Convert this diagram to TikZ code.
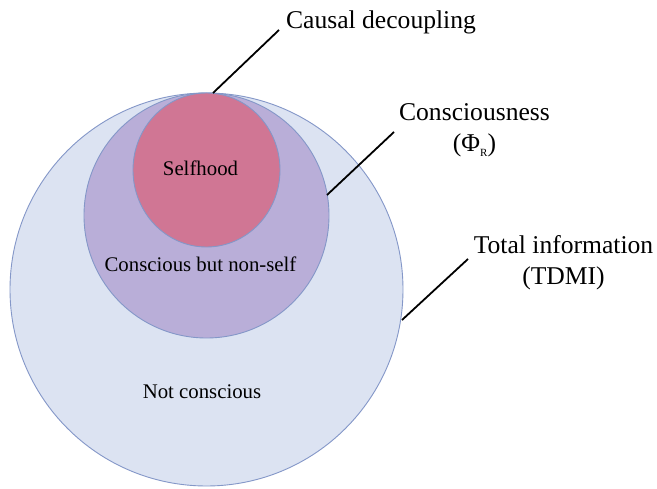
\documentclass[tikz,border=0pt]{standalone}
\usepackage{fontspec}
\setmainfont{Liberation Serif}
\usetikzlibrary{shapes.geometric}
\definecolor{outerfill}{HTML}{DCE3F2}
\definecolor{midfill}{HTML}{B9AED8}
\definecolor{innerfill}{HTML}{D07694}
\definecolor{ringline}{HTML}{8497C8}
\tikzset{
  ring/.style={draw=ringline, line width=0.9pt, inner sep=0pt},
  biglabel/.style={font=\fontsize{25.6}{31}\selectfont, align=center, inner sep=0pt},
  inlabel/.style={font=\fontsize{20.8}{25}\selectfont, inner sep=0pt},
  pointer/.style={draw=black, line width=1.8pt}
}
\begin{document}
\begin{tikzpicture}[x=1pt,y=-1pt]
\useasboundingbox (0,0) rectangle (657,489);
\fill[white] (0,0) rectangle (657,489);
\node[ring, circle, fill=outerfill, minimum size=393pt] (outer) at (206.5,289.5) {};
\node[ring, circle, fill=midfill, minimum size=245pt] (mid) at (206.5,215.5) {};
\node[ring, ellipse, fill=innerfill, minimum width=147pt, minimum height=154pt] (inner) at (206.5,170) {};
\node[inlabel] (self) at (200.5,168) {Selfhood};
\node[inlabel] (cbns) at (200.5,264) {Conscious but non-self};
\node[inlabel] (notc) at (202,392) {Not conscious};
\node[biglabel] (causal) at (381,22) {Causal decoupling};
\node[biglabel] (consc) at (474.5,130) {Consciousness\\(Φ\raisebox{-0.45ex}{\fontsize{11}{11}\selectfont R})};
\node[biglabel] (total) at (563.5,262.5) {Total information\\(TDMI)};
\coordinate (a1) at (279,30);
\coordinate (a2) at (213,93);
\coordinate (b1) at (394,132);
\coordinate (b2) at (327,195);
\coordinate (c1) at (468,259);
\coordinate (c2) at (402,320);
\draw[pointer] (a1) -- (a2);
\draw[pointer] (b1) -- (b2);
\draw[pointer] (c1) -- (c2);
\end{tikzpicture}
\end{document}
